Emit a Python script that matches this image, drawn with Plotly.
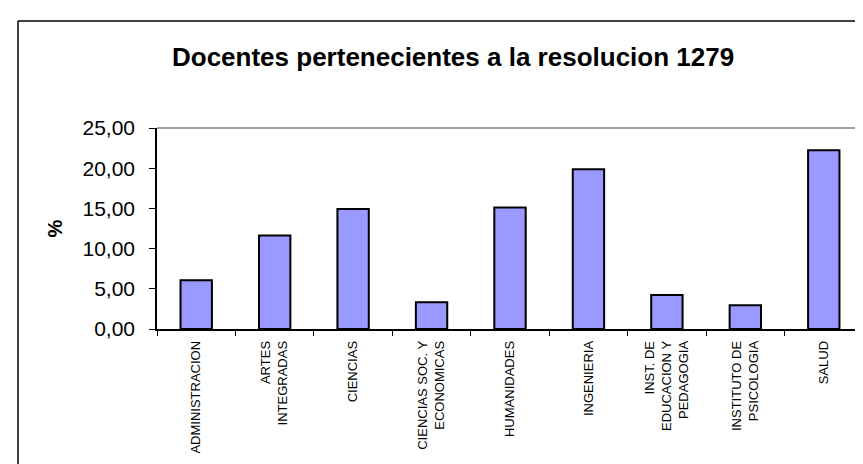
import plotly.graph_objects as go

categories = [
    "ADMINISTRACION",
    "ARTES<br>INTEGRADAS",
    "CIENCIAS",
    "CIENCIAS SOC. Y<br>ECONOMICAS",
    "HUMANIDADES",
    "INGENIERIA",
    "INST. DE<br>EDUCACION Y<br>PEDAGOGIA",
    "INSTITUTO DE<br>PSICOLOGIA",
    "SALUD",
]
values = [6.06, 11.62, 14.94, 3.32, 15.10, 19.88, 4.23, 2.95, 22.24]
y_ticks = [0, 5, 10, 15, 20, 25]

FONT = "Arial, Liberation Sans, sans-serif"
W, H = 863, 464
L, R, T, B = 149, 8, 120, 143
pw, ph = W - L - R, H - T - B

def px_x(px):
    return (px - L) / pw

def px_y(py):
    return (H - B - py) / ph

fig = go.Figure(
    go.Bar(
        x=categories,
        y=values,
        marker=dict(color="#9999FF", line=dict(color="#000000", width=2)),
    )
)

fig.update_layout(
    template="none",
    width=W,
    height=H,
    margin=dict(l=L, r=R, t=T, b=B, pad=0),
    paper_bgcolor="white",
    plot_bgcolor="white",
    separators=",.",
    bargap=0.6,
    showlegend=False,
    font=dict(family=FONT, color="black"),
    xaxis=dict(
        type="category",
        automargin=False,
        tickangle=-90,
        tickfont=dict(size=13, family=FONT),
        ticks="outside",
        tickson="boundaries",
        ticklen=5,
        tickwidth=1,
        tickcolor="black",
        ticklabelstandoff=5,
        showline=True,
        linecolor="black",
        linewidth=1.5,
        showgrid=False,
        zeroline=False,
        mirror=False,
    ),
    yaxis=dict(
        automargin=False,
        range=[0, 25],
        tickvals=y_ticks,
        tickformat=".2f",
        tickfont=dict(size=21, family=FONT),
        ticks="outside",
        ticklen=6,
        tickwidth=1,
        tickcolor="black",
        ticklabelstandoff=10,
        showline=True,
        linecolor="black",
        linewidth=1.5,
        showgrid=False,
        zeroline=False,
        title=dict(text="<b>%</b>", font=dict(size=20, family=FONT), standoff=14),
    ),
    shapes=[
        # plot area border (top and right, grey)
        dict(type="line", xref="paper", yref="paper", x0=0, x1=1, y0=1, y1=1,
             line=dict(color="#808080", width=1.5)),
        dict(type="line", xref="paper", yref="paper", x0=1, x1=1, y0=0, y1=1,
             line=dict(color="#808080", width=1.5)),
        # chart area border
        dict(type="line", xref="paper", yref="paper", x0=px_x(10), x1=px_x(880),
             y0=px_y(13), y1=px_y(13), line=dict(color="black", width=1.5)),
        dict(type="line", xref="paper", yref="paper", x0=px_x(10), x1=px_x(10),
             y0=px_y(13), y1=px_y(480), line=dict(color="black", width=1.5)),
    ],
    annotations=[
        dict(
            text="<b>Docentes pertenecientes a la resolucion 1279</b>",
            xref="paper", yref="paper",
            x=px_x(444.5), y=px_y(49),
            xanchor="center", yanchor="middle",
            showarrow=False,
            font=dict(size=26, family=FONT, color="black"),
        )
    ],
)

fig.write_html("out.html")
